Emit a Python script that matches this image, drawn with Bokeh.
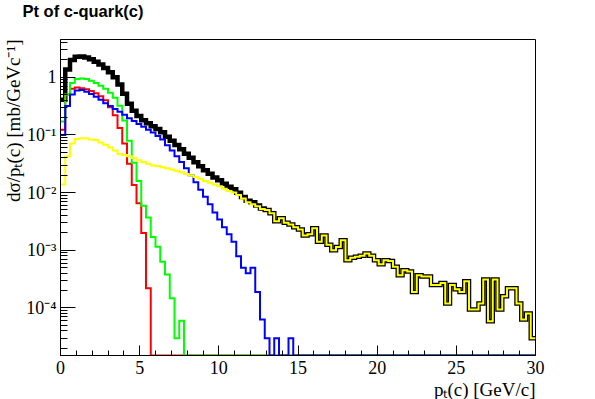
import numpy as np
from bokeh.plotting import figure
from bokeh.models import FixedTicker, Range1d, Title
from bokeh.embed import file_html
from bokeh.resources import INLINE

N_BINS = 100
X_MIN, X_MAX = 0.0, 30.0
Y_MIN, Y_MAX = 1.5e-5, 4.5

x_ticks = [0, 5, 10, 15, 20, 25, 30]
y_ticks = [1e-4, 1e-3, 1e-2, 1e-1, 1]
y_tick_labels = ["10\u207b\u2074", "10\u207b\u00b3", "10\u207b\u00b2", "10\u207b\u00b9", "1"]

# bin contents, 100 bins of 0.3 GeV/c from 0 to 30 (missing trailing bins are empty)
red = [0.123, 0.5, 0.63, 0.66, 0.645, 0.617, 0.575, 0.525, 0.468, 0.398,
       0.302, 0.219, 0.132, 0.0708, 0.0316, 0.0135, 0.0065, 0.002, 0.00022]

green = [0.17, 0.5, 0.79, 0.93, 0.95, 0.93, 0.87, 0.79, 0.71, 0.63,
         0.54, 0.44, 0.32, 0.178, 0.079, 0.033, 0.0158, 0.0059, 0.0037, 0.0017,
         0.00115, 0.00063, 0.00038, 0.000148, 0.00003, 0.00006]

blue = [0.1, 0.316, 0.5, 0.59, 0.6, 0.56, 0.51, 0.457, 0.407, 0.355,
        0.316, 0.282, 0.251, 0.224, 0.195, 0.174, 0.155, 0.138, 0.123, 0.11,
        0.0955, 0.083, 0.066, 0.0537, 0.0427, 0.0339, 0.0263, 0.02, 0.0151, 0.0112,
        0.0085, 0.0063, 0.0045, 0.0034, 0.0025, 0.0019, 0.0014, 0.00079, 0.0005, 0.0004,
        0.0005, 0.00019, 0.000063, 0.00003, 0, 0.00003, 0, 0, 0.00003]

yellow = [0.0138, 0.0427, 0.0708, 0.0851, 0.0871, 0.0871, 0.0832, 0.0813, 0.0741, 0.0676,
          0.0603, 0.0537, 0.0468, 0.0447, 0.0427, 0.0398, 0.0363, 0.0339, 0.0316, 0.0295,
          0.0288, 0.0275, 0.0263, 0.0251, 0.024, 0.0224, 0.0209, 0.02, 0.0186, 0.0174,
          0.0158, 0.0148, 0.0138, 0.0129, 0.0117, 0.0107, 0.01, 0.0091, 0.0079, 0.0068,
          0.0063, 0.0058, 0.0052, 0.005, 0.0044, 0.0032, 0.0036, 0.003, 0.0028, 0.0025,
          0.0023, 0.0018, 0.0019, 0.0024, 0.0014, 0.0018, 0.00125, 0.001, 0.00114, 0.00149,
          0.00067, 0.00074, 0.00077, 0.0008, 0.00088, 0.0008, 0.00067, 0.00057, 0.00067, 0.00065,
          0.00052, 0.00037, 0.00045, 0.00043, 0.00019, 0.00037, 0.00035, 0.00035, 0.00025, 0.00025,
          0.00027, 0.00012, 0.00025, 0.00021, 0.00019, 0.00029, 0.000094, 0.000094, 0.00012, 0.00031,
          0.000059, 0.00031, 0.000094, 0.00016, 0.00022, 0.00022, 0.00012, 0.000063, 0.00008, 0.00003]

total = [0.407, 1.36, 1.99, 2.27, 2.28, 2.19, 2.04, 1.85, 1.66, 1.45,
         1.22, 0.995, 0.75, 0.517, 0.348, 0.261, 0.213, 0.18, 0.159, 0.141,
         0.126, 0.111, 0.0927, 0.079, 0.0667, 0.0564, 0.0472, 0.04, 0.0337, 0.0286,
         0.0243, 0.0211, 0.0183, 0.0163, 0.0142, 0.0126, 0.0114, 0.0099, 0.0084, 0.0072,
         0.0068, 0.006, 0.0053, 0.005, 0.0044, 0.0032, 0.0036, 0.003, 0.0028, 0.0025,
         0.0023, 0.0018, 0.0019, 0.0024, 0.0014, 0.0018, 0.00125, 0.001, 0.00114, 0.00149,
         0.00067, 0.00074, 0.00077, 0.0008, 0.00088, 0.0008, 0.00067, 0.00057, 0.00067, 0.00065,
         0.00052, 0.00037, 0.00045, 0.00043, 0.00019, 0.00037, 0.00035, 0.00035, 0.00025, 0.00025,
         0.00027, 0.00012, 0.00025, 0.00021, 0.00019, 0.00029, 0.000094, 0.000094, 0.00012, 0.00031,
         0.000059, 0.00031, 0.000094, 0.00016, 0.00022, 0.00022, 0.00012, 0.000063, 0.00008, 0.00003]


edges = np.linspace(X_MIN, X_MAX, N_BINS + 1)


def step_xy(vals):
    v = np.array(list(vals) + [0.0] * (N_BINS - len(vals)), dtype=float)
    v = np.where(v > 0, v, Y_MIN)  # empty bins sit on the frame bottom, as in ROOT
    xs = np.repeat(edges, 2)[1:-1]
    ys = np.repeat(v, 2)
    return xs, ys


FONT = "Liberation Serif"

p = figure(width=595, height=399, x_range=Range1d(X_MIN, X_MAX), y_range=Range1d(Y_MIN, Y_MAX),
           y_axis_type="log", output_backend="svg", toolbar_location=None,
           min_border_left=59, min_border_right=60, min_border_top=39, min_border_bottom=41)
p.grid.visible = False
p.outline_line_color = "black"
p.outline_line_width = 1
p.background_fill_color = "white"
p.border_fill_color = "white"
p.title.text = ""
p.title.standoff = 0
p.title.visible = False

# spacer closest to the frame, then the title above it
p.add_layout(Title(text=" ", standoff=0, text_font_size="14px", text_font_style="normal"), "above")
p.add_layout(Title(text="Pt of c-quark(c)", align="left", vertical_align="top", offset=-38,
                   standoff=0, text_font="Liberation Sans", text_font_style="bold",
                   text_font_size="16.5px", text_color="black"), "above")

xa = p.xaxis[0]
xa.ticker = FixedTicker(ticks=x_ticks, minor_ticks=[i for i in range(0, 31) if i % 5])
xa.major_tick_in = 10
xa.major_tick_out = 0
xa.minor_tick_in = 5
xa.minor_tick_out = 0
xa.major_label_standoff = 5
xa.major_label_text_font = FONT
xa.major_label_text_font_size = "18px"
xa.major_label_text_color = "black"
xa.axis_line_color = "black"
xa.major_tick_line_color = "black"
xa.minor_tick_line_color = "black"

minor_y = [k * 10.0 ** n for n in range(-5, 1) for k in range(2, 10)]
ya = p.yaxis[0]
ya.ticker = FixedTicker(ticks=y_ticks, minor_ticks=minor_y)
ya.major_label_overrides = {t: s for t, s in zip(y_ticks, y_tick_labels)}
ya.major_tick_in = 15
ya.major_tick_out = 0
ya.minor_tick_in = 7
ya.minor_tick_out = 0
ya.major_label_standoff = 4
ya.major_label_text_font = FONT
ya.major_label_text_font_size = "18px"
ya.major_label_text_color = "black"
ya.axis_line_color = "black"
ya.major_tick_line_color = "black"
ya.minor_tick_line_color = "black"

p.add_layout(Title(text="p\u209c(c) [GeV/c]", align="right", standoff=0,
                   text_font=FONT, text_font_style="normal", text_font_size="19px",
                   text_color="black"), "below")
p.add_layout(Title(text="d\u03c3/p\u209c(c) [mb/GeVc\u207b\u00b9]", align="right", standoff=0,
                   text_font=FONT, text_font_style="normal", text_font_size="19px",
                   text_color="black"), "left")

series = [(total, "black", 4.5), (red, "#ff0000", 2), (green, "#00ff00", 2),
          (blue, "#0000ff", 2), (yellow, "#ffff00", 2)]
for vals, color, w in series:
    xs, ys = step_xy(vals)
    p.line(xs, ys, line_color=color, line_width=w, line_join="miter")

open("out.html", "w").write(file_html(p, INLINE))
